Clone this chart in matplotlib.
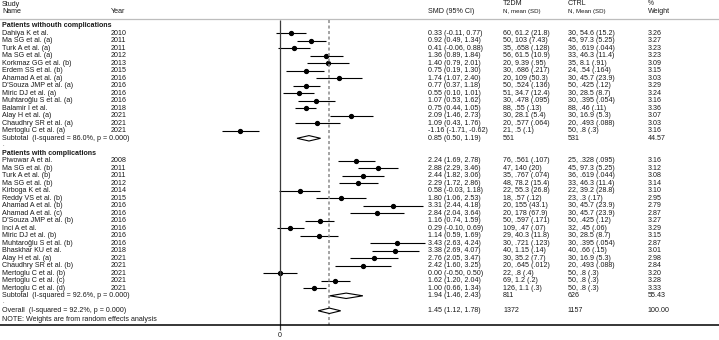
import matplotlib.pyplot as plt
import matplotlib.transforms as mtransforms

# group 1: patients without complications
g1_names = ["Dahiya K et al.", "Ma SG et al. (a)", "Turk A et al. (a)", "Ma SG et al. (a)",
            "Korkmaz GG et al. (b)", "Erdem SS et al. (b)", "Ahamad A et al. (a)",
            "D'Souza JMP et al. (a)", "Miric DJ et al. (a)", "Muhtaroğlu S et al. (a)",
            "Balamir I et al.", "Alay H et al. (a)", "Chaudhry SR et al. (a)", "Mertoglu C et al. (a)"]
g1_years = [2010, 2011, 2011, 2012, 2013, 2015, 2016, 2016, 2016, 2016, 2018, 2021, 2021, 2021]
g1_smd = [0.33, 0.92, 0.41, 1.36, 1.40, 0.75, 1.74, 0.77, 0.55, 1.07, 0.75, 2.09, 1.09, -1.16]
g1_lo = [-0.11, 0.49, -0.06, 0.89, 0.79, 0.19, 1.07, 0.37, 0.10, 0.53, 0.44, 1.46, 0.43, -1.71]
g1_hi = [0.77, 1.34, 0.88, 1.84, 2.01, 1.30, 2.40, 1.18, 1.01, 1.62, 1.05, 2.73, 1.76, -0.62]
g1_t2dm = ["60, 61.2 (21.8)", "50, 103 (7.43)", "35, .658 (.128)", "56, 61.5 (10.9)",
           "20, 9.39 (.95)", "30, .686 (.217)", "20, 109 (50.3)", "50, .524 (.136)",
           "51, 34.7 (12.4)", "30, .478 (.095)", "88, .55 (.13)", "30, 28.1 (5.4)",
           "20, .577 (.064)", "21, .5 (.1)"]
g1_ctrl = ["30, 54.6 (15.2)", "45, 97.3 (5.25)", "36, .619 (.044)", "33, 46.3 (11.4)",
           "35, 8.1 (.91)", "24, .54 (.164)", "30, 45.7 (23.9)", "50, .425 (.12)",
           "30, 28.5 (8.7)", "30, .395 (.054)", "88, .46 (.11)", "30, 16.9 (5.3)",
           "20, .493 (.088)", "50, .8 (.3)"]
g1_weight = [3.26, 3.27, 3.23, 3.23, 3.09, 3.15, 3.03, 3.29, 3.24, 3.16, 3.36, 3.07, 3.03, 3.16]
g1_sub = (0.85, 0.50, 1.19, "561", "531", 44.57, "Subtotal  (I-squared = 86.0%, p = 0.000)")

# group 2: patients with complications
g2_names = ["Piwowar A et al.", "Ma SG et al. (b)", "Turk A et al. (b)", "Ma SG et al. (b)",
            "Kirboga K et al.", "Reddy VS et al. (b)", "Ahamad A et al. (b)", "Ahamad A et al. (c)",
            "D'Souza JMP et al. (b)", "Inci A et al.", "Miric DJ et al. (b)",
            "Muhtaroğlu S et al. (b)", "Bhaskhar KU et al.", "Alay H et al. (a)",
            "Chaudhry SR et al. (b)", "Mertoglu C et al. (b)", "Mertoglu C et al. (c)",
            "Mertoglu C et al. (d)"]
g2_years = [2008, 2011, 2011, 2012, 2014, 2015, 2016, 2016, 2016, 2016, 2016, 2016, 2018,
            2021, 2021, 2021, 2021, 2021]
g2_smd = [2.24, 2.88, 2.44, 2.29, 0.58, 1.80, 3.31, 2.84, 1.16, 0.29, 1.14, 3.43, 3.38,
          2.76, 2.42, 0.00, 1.62, 1.00]
g2_lo = [1.69, 2.29, 1.82, 1.72, -0.03, 1.06, 2.44, 2.04, 0.74, -0.10, 0.59, 2.63, 2.69,
         2.05, 1.60, -0.50, 1.20, 0.66]
g2_hi = [2.78, 3.46, 3.06, 2.86, 1.18, 2.53, 4.18, 3.64, 1.59, 0.69, 1.69, 4.24, 4.07,
         3.47, 3.25, 0.50, 2.04, 1.34]
g2_t2dm = ["76, .561 (.107)", "47, 140 (20)", "35, .767 (.074)", "48, 78.2 (15.4)",
           "22, 55.3 (26.8)", "18, .57 (.12)", "20, 155 (43.1)", "20, 178 (67.9)",
           "50, .597 (.171)", "109, .47 (.07)", "29, 40.3 (11.8)", "30, .721 (.123)",
           "40, 1.15 (.14)", "30, 35.2 (7.7)", "20, .645 (.012)", "22, .8 (.4)",
           "69, 1.2 (.2)", "126, 1.1 (.3)"]
g2_ctrl = ["25, .328 (.095)", "45, 97.3 (5.25)", "36, .619 (.044)", "33, 46.3 (11.4)",
           "22, 39.2 (28.8)", "23, .3 (.17)", "30, 45.7 (23.9)", "30, 45.7 (23.9)",
           "50, .425 (.12)", "32, .45 (.06)", "30, 28.5 (8.7)", "30, .395 (.054)",
           "40, .66 (.15)", "30, 16.9 (5.3)", "20, .493 (.088)", "50, .8 (.3)",
           "50, .8 (.3)", "50, .8 (.3)"]
g2_weight = [3.16, 3.12, 3.08, 3.14, 3.10, 2.95, 2.79, 2.87, 3.27, 3.29, 3.15, 2.87, 3.01,
             2.98, 2.84, 3.20, 3.28, 3.33]
g2_sub = (1.94, 1.46, 2.43, "811", "626", 55.43, "Subtotal  (I-squared = 92.6%, p = 0.000)")

overall = (1.45, 1.12, 1.78, "1372", "1157", 100.00, "Overall  (I-squared = 92.2%, p = 0.000)")

groups = [("Patients withouth complications", g1_names, g1_years, g1_smd, g1_lo, g1_hi,
           g1_t2dm, g1_ctrl, g1_weight, g1_sub),
          ("Patients with complications", g2_names, g2_years, g2_smd, g2_lo, g2_hi,
           g2_t2dm, g2_ctrl, g2_weight, g2_sub)]

plt.rcParams['font.family'] = ['Liberation Sans', 'DejaVu Sans']
FS = 5.1
TXT = '#1a1a1a'

# column positions (figure fraction)
col_study = 2 / 719
col_year = 111 / 719
col_smd = 428 / 719
col_t2dm = 503 / 719
col_ctrl = 568 / 719
col_w = 648 / 719

fig = plt.figure(figsize=(7.19, 3.40), dpi=100)
ax = fig.add_axes([0, 0, 1, 1])
ax.set_xlim(-280 / 34.1, (719 - 280) / 34.1)
ax.set_ylim((340 - 33.3) / 7.5, -33.3 / 7.5)
ax.axis('off')
tr = mtransforms.blended_transform_factory(ax.transAxes, ax.transData)


def row_text(r, items, **kw):
	for x, s in items:
		ax.text(x, r, s, transform=tr, fontsize=FS, color=TXT, va='center', ha='left', **kw)


def diamond(r, est, lo, hi):
	h = 0.36
	ax.fill([lo, est, hi, est, lo], [r, r - h, r, r + h, r], facecolor='white',
	        edgecolor='black', lw=0.8, zorder=3)


# header
ax.text(col_study, -3.9, "Study", transform=tr, fontsize=FS, color=TXT, va='center')
ax.text(col_study, -2.95, "Name", transform=tr, fontsize=FS, color=TXT, va='center')
ax.text(col_year, -2.95, "Year", transform=tr, fontsize=FS, color=TXT, va='center')
ax.text(col_smd, -2.95, "SMD (95% CI)", transform=tr, fontsize=FS, color=TXT, va='center')
ax.text(col_t2dm, -3.95, "T2DM", transform=tr, fontsize=FS, color=TXT, va='center')
ax.text(col_t2dm, -2.95, "N, mean (SD)", transform=tr, fontsize=FS - 0.7, color=TXT, va='center')
ax.text(col_ctrl, -3.95, "CTRL", transform=tr, fontsize=FS, color=TXT, va='center')
ax.text(col_ctrl, -2.95, "N, Mean (SD)", transform=tr, fontsize=FS - 0.7, color=TXT, va='center')
ax.text(col_w, -3.95, "%", transform=tr, fontsize=FS - 0.3, color=TXT, va='center')
ax.text(col_w, -2.95, "Weight", transform=tr, fontsize=FS, color=TXT, va='center')
ax.axhline(-1.91, color='#bdbdbd', lw=0.9)

r = -1
for title, names, years, smd, lo, hi, t2dm, ctrl, w, sub in groups:
	ax.text(col_study, r, title, transform=tr, fontsize=FS, color=TXT, va='center',
	        fontweight='bold')
	r += 1
	for i in range(len(names)):
		ax.hlines(r, lo[i], hi[i], color='black', lw=0.8)
		ax.plot(smd[i], r, 'o', ms=2.8, color='black')
		row_text(r, [(col_study, names[i]), (col_year, str(years[i])),
		             (col_smd, "%.2f (%.2f, %.2f)" % (smd[i], lo[i], hi[i])),
		             (col_t2dm, t2dm[i]), (col_ctrl, ctrl[i]), (col_w, "%.2f" % w[i])])
		r += 1
	est, slo, shi, n1, n2, sw, lab = sub
	diamond(r, est, slo, shi)
	row_text(r, [(col_study, lab), (col_smd, "%.2f (%.2f, %.2f)" % (est, slo, shi)),
	             (col_t2dm, n1), (col_ctrl, n2), (col_w, "%.2f" % sw)])
	r += 1
	ax.text(col_study, r - 0.2, ".", transform=tr, fontsize=FS - 1, color=TXT, va='center')
	r += 1

# r now sits on the overall row
est, slo, shi, n1, n2, sw, lab = overall
diamond(r, est, slo, shi)
row_text(r, [(col_study, lab), (col_smd, "%.2f (%.2f, %.2f)" % (est, slo, shi)),
             (col_t2dm, n1), (col_ctrl, n2), (col_w, "%.2f" % sw)])
r += 1
row_text(r + 0.15, [(col_study, "NOTE: Weights are from random effects analysis")])

# reference lines and x axis
y_top = -1.77
y_axis = 38.9
ax.vlines(0, y_top, y_axis + 0.7, color='#3a3a3a', lw=0.9)
ax.vlines(est, y_top, y_axis, color='#8a8a8a', lw=1.1, linestyles=(0, (2, 1.6)))
ax.axhline(y_axis, color='black', lw=1.1)
ax.text(0, 40.35, "0", fontsize=FS, color=TXT, ha='center', va='center')

fig.savefig('out.png', dpi=100)
